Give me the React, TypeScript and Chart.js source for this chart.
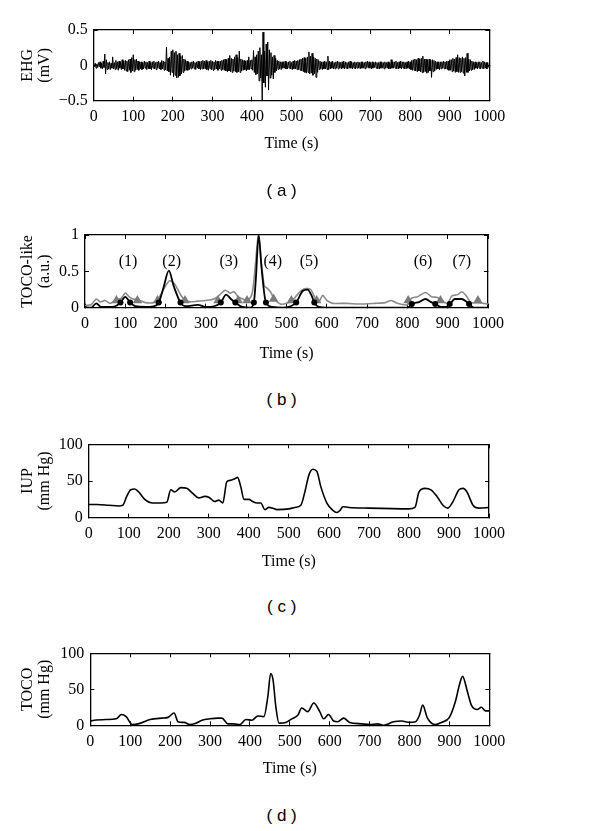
import React, { useEffect, useRef } from 'react';
import { Chart, registerables } from 'chart.js';

Chart.register(...registerables);

// ---------------- DATA ----------------
const TIME_MIN = 0;
const TIME_MAX = 1000;
const TIME_STEP = 100;

// (a) EHG in mV, one sample every 2 s
const EHG_DT = 2;
const EHG_MV = [
  0.02, -0.02, 0.03, -0.04, 0.02, -0.03, 0.04, -0.02, 0.05, -0.04, 0.03, -0.05, 0.06, -0.03, 0.16, -0.12, 0.08, -0.06, 0.04, -0.05,
  0.05, -0.06, 0.03, -0.04, 0.12, -0.05, 0.04, -0.06, 0.07, -0.05, 0.05, -0.07, 0.06, -0.04, 0.05, -0.06, 0.08, -0.05, 0.06, -0.07,
  0.07, -0.08, 0.06, -0.09, 0.08, -0.07, 0.09, -0.1, 0.11, -0.08, 0.15, -0.09, 0.08, -0.07, 0.09, -0.06, 0.06, -0.07, 0.05, -0.05,
  0.05, -0.06, 0.04, -0.05, 0.06, -0.04, 0.05, -0.06, 0.04, -0.05, 0.06, -0.05, 0.04, -0.06, 0.05, -0.04, 0.06, -0.05, 0.04, -0.06,
  0.05, -0.04, 0.06, -0.05, 0.04, -0.06, 0.07, -0.05, 0.06, -0.07, 0.05, -0.06, 0.26, -0.08, 0.1, -0.09, 0.12, -0.14, 0.2, -0.1,
  0.22, -0.16, 0.18, -0.14, 0.2, -0.18, 0.15, -0.17, 0.17, -0.15, 0.13, -0.12, 0.14, -0.1, 0.09, -0.08, 0.08, -0.07, 0.06, -0.07,
  0.05, -0.06, 0.04, -0.05, 0.05, -0.04, 0.06, -0.05, 0.04, -0.06, 0.05, -0.04, 0.06, -0.05, 0.05, -0.06, 0.06, -0.05, 0.07, -0.05,
  0.06, -0.05, 0.07, -0.06, 0.05, -0.07, 0.06, -0.05, 0.07, -0.06, 0.06, -0.07, 0.05, -0.06, 0.07, -0.05, 0.06, -0.07, 0.06, -0.05,
  0.06, -0.07, 0.07, -0.06, 0.08, -0.07, 0.09, -0.08, 0.08, -0.09, 0.1, -0.08, 0.14, -0.09, 0.1, -0.1, 0.09, -0.08, 0.12, -0.09,
  0.15, -0.1, 0.11, -0.09, 0.2, -0.1, 0.09, -0.08, 0.08, -0.07, 0.07, -0.06, 0.06, -0.08, 0.07, -0.06, 0.12, -0.06, 0.07, -0.05,
  0.08, -0.07, 0.21, -0.1, 0.12, -0.13, 0.15, -0.12, 0.2, -0.22, 0.25, -0.18, 0.15, -0.5, 0.47, -0.25, 0.2, -0.31, 0.3, -0.15,
  0.33, -0.35, 0.22, -0.18, 0.18, -0.14, 0.12, -0.19, 0.14, -0.1, 0.1, -0.08, 0.07, -0.06, 0.06, -0.05, 0.05, -0.06, 0.05, -0.04,
  0.05, -0.04, 0.06, -0.05, 0.04, -0.05, 0.05, -0.04, 0.06, -0.05, 0.04, -0.06, 0.06, -0.05, 0.07, -0.05, 0.06, -0.06, 0.07, -0.06,
  0.08, -0.07, 0.09, -0.08, 0.1, -0.09, 0.11, -0.1, 0.1, -0.11, 0.12, -0.1, 0.19, -0.12, 0.13, -0.11, 0.17, -0.14, 0.12, -0.12,
  0.1, -0.17, 0.09, -0.1, 0.08, -0.06, 0.06, -0.05, 0.05, -0.06, 0.05, -0.05, 0.06, -0.05, 0.05, -0.06, 0.13, -0.06, 0.06, -0.05,
  0.05, -0.04, 0.06, -0.05, 0.04, -0.05, 0.05, -0.04, 0.06, -0.05, 0.05, -0.04, 0.04, -0.05, 0.05, -0.04, 0.06, -0.05, 0.05, -0.04,
  0.04, -0.05, 0.05, -0.04, 0.06, -0.04, 0.05, -0.05, 0.04, -0.04, 0.05, -0.05, 0.04, -0.04, 0.05, -0.04, 0.04, -0.05, 0.05, -0.04,
  0.05, -0.04, 0.04, -0.05, 0.05, -0.03, 0.06, -0.04, 0.05, -0.04, 0.04, -0.05, 0.05, -0.04, 0.04, -0.03, 0.05, -0.04, 0.04, -0.05,
  0.04, -0.05, 0.05, -0.04, 0.05, -0.04, 0.04, -0.05, 0.05, -0.04, 0.04, -0.04, 0.05, -0.05, 0.04, -0.05, 0.08, -0.04, 0.05, -0.04,
  0.05, -0.04, 0.06, -0.05, 0.04, -0.05, 0.05, -0.04, 0.06, -0.05, 0.05, -0.04, 0.05, -0.05, 0.04, -0.05, 0.05, -0.04, 0.06, -0.05,
  0.05, -0.06, 0.07, -0.07, 0.08, -0.07, 0.09, -0.08, 0.08, -0.09, 0.1, -0.08, 0.09, -0.09, 0.1, -0.1, 0.13, -0.1, 0.09, -0.09,
  0.09, -0.11, 0.08, -0.1, 0.09, -0.08, 0.07, -0.17, 0.08, -0.09, 0.07, -0.08, 0.06, -0.06, 0.05, -0.05, 0.05, -0.06, 0.05, -0.05,
  0.05, -0.04, 0.06, -0.05, 0.05, -0.05, 0.06, -0.06, 0.06, -0.07, 0.08, -0.07, 0.08, -0.09, 0.1, -0.08, 0.09, -0.1, 0.11, -0.09,
  0.15, -0.1, 0.11, -0.1, 0.1, -0.09, 0.12, -0.11, 0.1, -0.15, 0.11, -0.1, 0.17, -0.1, 0.09, -0.08, 0.08, -0.07, 0.06, -0.06,
  0.05, -0.06, 0.05, -0.04, 0.04, -0.05, 0.05, -0.04, 0.05, -0.05, 0.04, -0.04, 0.06, -0.05, 0.05, -0.04, 0.04, -0.05, 0.04, -0.03,
];

// (b) TOCO-like (a.u.)
const TOCOLIKE_BLACK_T = [0, 15, 28, 40, 60, 75, 88, 100, 112, 125, 150, 170, 183, 195, 208, 220, 237, 250, 280, 300, 320, 337, 350, 362, 373, 390, 410, 419, 424, 431, 438, 449, 465, 490, 510, 524, 540, 552, 562, 569, 580, 600, 800, 811, 830, 845, 858, 869, 885, 895, 905, 918, 935, 945, 953, 965, 1000];
const TOCOLIKE_BLACK_V = [0.01, 0.0, 0.06, 0.01, 0.01, 0.02, 0.07, 0.15, 0.07, 0.02, 0.01, 0.02, 0.07, 0.28, 0.51, 0.3, 0.07, 0.02, 0.04, 0.01, 0.02, 0.07, 0.18, 0.12, 0.07, 0.01, 0.0, 0.07, 0.4, 1.0, 0.55, 0.07, 0.01, 0.0, 0.02, 0.07, 0.23, 0.25, 0.17, 0.07, 0.01, 0.0, 0.0, 0.05, 0.08, 0.12, 0.08, 0.05, 0.01, 0.01, 0.05, 0.12, 0.12, 0.09, 0.05, 0.0, 0.0];

const TOCOLIKE_GRAY_T = [0, 15, 28, 38, 50, 62, 75, 90, 100, 110, 120, 135, 150, 170, 185, 200, 210, 222, 235, 245, 260, 280, 300, 320, 335, 348, 360, 370, 380, 392, 405, 415, 423, 430, 438, 445, 452, 460, 470, 485, 500, 515, 530, 545, 560, 572, 580, 590, 600, 615, 650, 680, 720, 745, 760, 775, 800, 810, 825, 845, 860, 875, 890, 900, 910, 925, 935, 945, 958, 975, 1000];
const TOCOLIKE_GRAY_V = [0.03, 0.04, 0.12, 0.08, 0.1, 0.06, 0.1, 0.13, 0.2, 0.15, 0.12, 0.1, 0.07, 0.07, 0.15, 0.3, 0.37, 0.33, 0.2, 0.12, 0.08, 0.09, 0.1, 0.12, 0.18, 0.24, 0.2, 0.22, 0.15, 0.12, 0.1, 0.2, 0.6, 1.0, 0.6, 0.3, 0.27, 0.22, 0.12, 0.05, 0.06, 0.1, 0.2, 0.26, 0.25, 0.12, 0.08, 0.17, 0.1, 0.06, 0.06, 0.05, 0.06, 0.07, 0.1, 0.06, 0.04, 0.13, 0.15, 0.21, 0.15, 0.14, 0.08, 0.06, 0.16, 0.18, 0.22, 0.17, 0.07, 0.07, 0.05];

const TRIANGLE_T = [78, 130, 180, 248, 330, 380, 402, 468, 512, 575, 802, 882, 975];
const TRIANGLE_V = [0.1, 0.1, 0.1, 0.1, 0.1, 0.1, 0.1, 0.12, 0.1, 0.1, 0.1, 0.1, 0.1];

const DOT_T = [88, 112, 183, 237, 337, 373, 419, 449, 524, 569, 811, 869, 905, 953];
const DOT_V = [0.07, 0.07, 0.07, 0.07, 0.07, 0.07, 0.07, 0.07, 0.07, 0.07, 0.05, 0.05, 0.05, 0.05];

const CONTRACTION_LABELS = ['(1)', '(2)', '(3)', '(4)', '(5)', '(6)', '(7)'];
const CONTRACTION_LABEL_T = [107, 215, 357, 466, 556, 839, 935];
const CONTRACTION_LABEL_V = [0.63, 0.63, 0.63, 0.63, 0.63, 0.63, 0.63];

// (c) IUP mmHg
const IUP_T = [0, 20, 50, 75, 85, 95, 105, 115, 125, 140, 160, 180, 195, 205, 215, 230, 245, 260, 275, 290, 300, 315, 325, 335, 345, 355, 365, 372, 380, 388, 400, 410, 420, 430, 440, 450, 460, 470, 500, 515, 530, 540, 550, 560, 570, 580, 595, 610, 620, 628, 635, 650, 700, 800, 815, 825, 840, 855, 870, 885, 897, 910, 925, 935, 945, 960, 975, 1000];
const IUP_V = [18, 18, 17, 16, 17, 29, 38, 39, 35, 25, 20, 20, 21, 38, 35, 41, 40, 33, 27, 29, 28, 22, 24, 20, 49, 51, 53, 55, 42, 25, 25, 22, 20, 20, 11, 14, 13, 11, 12, 14, 17, 35, 58, 66, 63, 42, 20, 10, 7, 10, 15, 14, 13, 12, 14, 35, 40, 38, 29, 17, 13, 22, 38, 40, 35, 17, 13, 14];

// (d) TOCO mmHg
const TOCO_T = [0, 10, 40, 65, 78, 90, 105, 120, 150, 180, 195, 210, 220, 235, 250, 265, 280, 300, 320, 330, 345, 360, 375, 390, 405, 420, 435, 445, 452, 458, 465, 473, 490, 505, 520, 530, 545, 560, 575, 585, 597, 610, 620, 635, 650, 680, 700, 720, 735, 760, 780, 800, 815, 825, 833, 845, 865, 880, 900, 915, 925, 933, 945, 955, 970, 980, 990, 1000];
const TOCO_V = [6, 7, 8, 9, 15, 12, 1, 2, 8, 10, 11, 17, 5, 4, 1, 3, 7, 9, 10, 10, 2, 2, 1, 8, 7, 13, 12, 40, 72, 63, 26, 3, 4, 9, 14, 24, 19, 31, 19, 9, 15, 6, 5, 10, 4, 2, 1, 2, 0, 5, 6, 4, 5, 14, 28, 10, 1, 4, 11, 33, 56, 68, 47, 28, 22, 25, 20, 20];

// ---------------- STYLE / LAYOUT ----------------
const SERIF = '"Liberation Serif", "Times New Roman", serif';
const SANS = '"Liberation Sans", Arial, sans-serif';
const PAGE_W = 600;
const TITLE_LH = 16;

type Layout = { top: number; height: number; plotL: number; plotR: number; plotT: number; plotB: number; titleY: number; capY: number };

const LAYOUT: Record<string, Layout> = {
  a: { top: 0, height: 165, plotL: 93.7, plotR: 489.3, plotT: 30, plotB: 100.7, titleY: 144, capY: 191 },
  b: { top: 200, height: 170, plotL: 85, plotR: 488, plotT: 235, plotB: 307.7, titleY: 354, capY: 400 },
  c: { top: 415, height: 165, plotL: 88.7, plotR: 489, plotT: 444.3, plotB: 517.7, titleY: 561.7, capY: 607 },
  d: { top: 620, height: 165, plotL: 90.3, plotR: 489.3, plotT: 653.3, plotB: 725.3, titleY: 768.5, capY: 815.7 },
};

const zip = (t: number[], v: number[]) => t.map((x, i) => ({ x, y: v[i] }));
const fmtNum = (v: number | string) => {
  const n = Number(v);
  return n < 0 ? '\u2212' + String(Math.abs(n)) : String(n);
};

function buildOptions(L: Layout, yMin: number, yMax: number, yStep: number, yTitle: string[]) {
  const tickFont = { family: SERIF, size: 16 };
  const grid = { drawOnChartArea: false, drawTicks: true, tickLength: -4, color: '#000', lineWidth: 1 };
  const border = { display: true, color: '#000', width: 1.3 };
  const xHeight = L.height - (L.plotB - L.top);
  const titlePadBottom = L.top + L.height - L.titleY - TITLE_LH / 2;
  return {
    responsive: false,
    animation: false as const,
    events: [],
    layout: { padding: { left: 0, right: PAGE_W - L.plotR, top: L.plotT - L.top, bottom: 0 } },
    plugins: { legend: { display: false }, tooltip: { enabled: false }, title: { display: false } },
    scales: {
      x: {
        type: 'linear' as const,
        position: 'bottom' as const,
        min: TIME_MIN,
        max: TIME_MAX,
        ticks: { stepSize: TIME_STEP, font: tickFont, color: '#000', padding: 10.5, maxRotation: 0, autoSkip: false, callback: (v: any) => fmtNum(v) },
        grid,
        border,
        title: { display: true, text: 'Time (s)', color: '#000', font: { family: SERIF, size: 16, lineHeight: 1 }, padding: { top: 0, bottom: titlePadBottom } },
        afterFit: (s: any) => { s.height = xHeight; },
      },
      x2: {
        type: 'linear' as const,
        position: 'top' as const,
        min: TIME_MIN,
        max: TIME_MAX,
        ticks: { stepSize: TIME_STEP, display: false },
        grid,
        border,
        afterFit: (s: any) => { s.height = 0; },
      },
      y: {
        type: 'linear' as const,
        position: 'left' as const,
        min: yMin,
        max: yMax,
        ticks: { stepSize: yStep, font: tickFont, color: '#000', padding: 10, callback: (v: any) => fmtNum(v) },
        grid,
        border,
        title: { display: true, text: yTitle, color: '#000', font: { family: SERIF, size: 16, lineHeight: 1.06 }, padding: { top: 19, bottom: 0 } },
        afterFit: (s: any) => { s.width = L.plotL; },
      },
      y2: {
        type: 'linear' as const,
        position: 'right' as const,
        min: yMin,
        max: yMax,
        ticks: { stepSize: yStep, display: false },
        grid,
        border,
        afterFit: (s: any) => { s.width = 0; },
      },
    },
  };
}

const contractionLabelPlugin = {
  id: 'contractionLabels',
  afterDatasetsDraw(chart: any) {
    const { ctx, scales } = chart;
    ctx.save();
    ctx.font = `16px ${SERIF}`;
    ctx.fillStyle = '#000';
    ctx.textAlign = 'center';
    ctx.textBaseline = 'middle';
    CONTRACTION_LABELS.forEach((txt, i) => {
      ctx.fillText(txt, scales.x.getPixelForValue(CONTRACTION_LABEL_T[i]), scales.y.getPixelForValue(CONTRACTION_LABEL_V[i]));
    });
    ctx.restore();
  },
};

function configA(): any {
  return {
    type: 'line',
    data: {
      datasets: [{
        data: EHG_MV.map((v, i) => ({ x: i * EHG_DT, y: v })),
        borderColor: '#000', borderWidth: 1, pointRadius: 0, tension: 0,
      }],
    },
    options: buildOptions(LAYOUT.a, -0.5, 0.5, 0.5, ['EHG', '(mV)']),
  };
}

function configB(): any {
  return {
    type: 'line',
    data: {
      datasets: [
        { data: zip(DOT_T, DOT_V), showLine: false, pointStyle: 'circle', pointRadius: 3, backgroundColor: '#000', borderColor: '#000', borderWidth: 0 },
        { data: zip(TOCOLIKE_BLACK_T, TOCOLIKE_BLACK_V), borderColor: '#000', borderWidth: 1.8, pointRadius: 0, cubicInterpolationMode: 'monotone' },
        { data: zip(TRIANGLE_T, TRIANGLE_V), showLine: false, pointStyle: 'triangle', pointRadius: 5.5, backgroundColor: '#7a7a7a', borderColor: '#7a7a7a', borderWidth: 0 },
        { data: zip(TOCOLIKE_GRAY_T, TOCOLIKE_GRAY_V), borderColor: '#8a8a8a', borderWidth: 1.6, pointRadius: 0, tension: 0.25 },
      ],
    },
    options: buildOptions(LAYOUT.b, 0, 1, 0.5, ['TOCO-like', '(a.u.)']),
    plugins: [contractionLabelPlugin],
  };
}

function configC(): any {
  return {
    type: 'line',
    data: { datasets: [{ data: zip(IUP_T, IUP_V), borderColor: '#000', borderWidth: 1.6, pointRadius: 0, cubicInterpolationMode: 'monotone' }] },
    options: buildOptions(LAYOUT.c, 0, 100, 50, ['IUP', '(mm Hg)']),
  };
}

function configD(): any {
  return {
    type: 'line',
    data: { datasets: [{ data: zip(TOCO_T, TOCO_V), borderColor: '#000', borderWidth: 1.6, pointRadius: 0, cubicInterpolationMode: 'monotone' }] },
    options: buildOptions(LAYOUT.d, 0, 100, 50, ['TOCO', '(mm Hg)']),
  };
}

function Panel({ layout, build }: { layout: Layout; build: () => any }) {
  const ref = useRef<HTMLCanvasElement>(null);
  useEffect(() => {
    const chart = new Chart(ref.current as HTMLCanvasElement, build());
    return () => chart.destroy();
  }, []);
  return (
    <canvas
      ref={ref}
      width={PAGE_W}
      height={layout.height}
      style={{ position: 'absolute', left: 0, top: layout.top, width: PAGE_W, height: layout.height }}
    />
  );
}

function Caption({ text, y }: { text: string; y: number }) {
  return (
    <div style={{ position: 'absolute', left: 231.7, width: 100, top: y - 10, height: 20, lineHeight: '20px', textAlign: 'center', fontFamily: SANS, fontSize: 17, color: '#000', whiteSpace: 'pre' }}>
      {text}
    </div>
  );
}

export default function App() {
  return (
    <div style={{ position: 'absolute', left: 0, top: 0, width: PAGE_W, height: 831, background: '#fff' }}>
      <Panel layout={LAYOUT.a} build={configA} />
      <Panel layout={LAYOUT.b} build={configB} />
      <Panel layout={LAYOUT.c} build={configC} />
      <Panel layout={LAYOUT.d} build={configD} />
      <Caption text="( a )" y={LAYOUT.a.capY} />
      <Caption text="( b )" y={LAYOUT.b.capY} />
      <Caption text="( c )" y={LAYOUT.c.capY} />
      <Caption text="( d )" y={LAYOUT.d.capY} />
    </div>
  );
}
